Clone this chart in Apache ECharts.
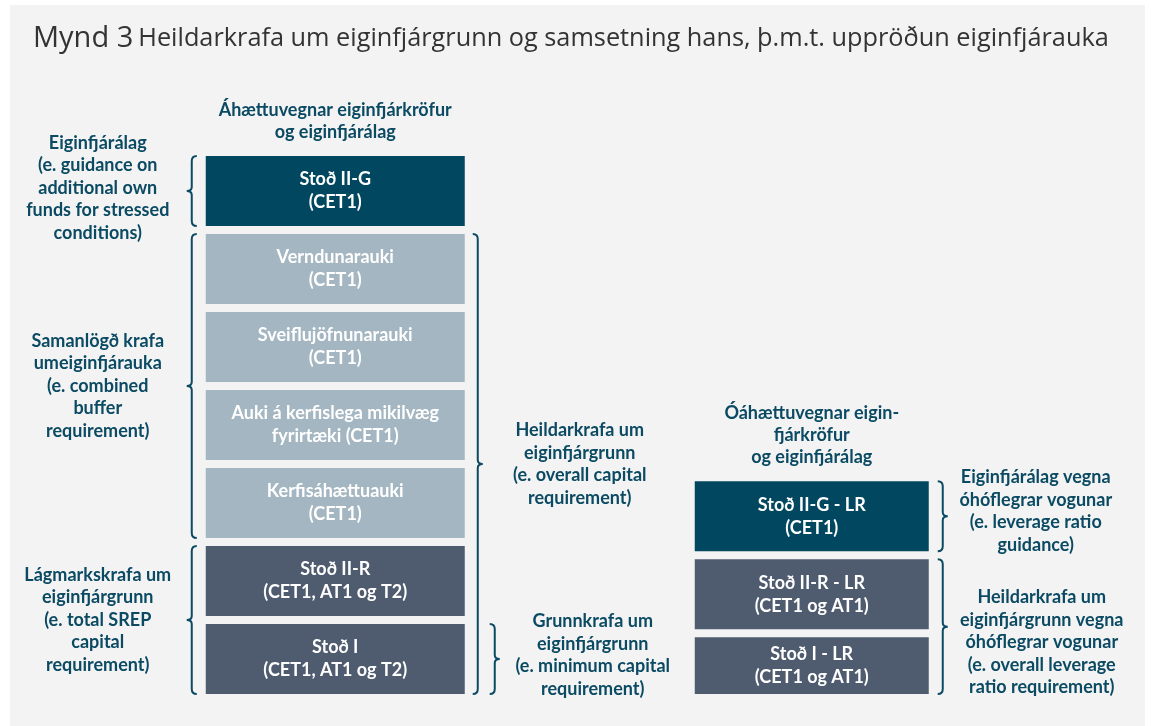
<!DOCTYPE html>
<html lang="is">
<head>
    <meta charset="UTF-8">
    <title>Mynd 3</title>
    <script src="https://cdn.jsdelivr.net/npm/echarts@6/dist/echarts.min.js"></script>
    <style>
        html, body { margin: 0; padding: 0; background: #fff; }
        #main { width: 1151px; height: 726px; }
    </style>
</head>
<body>
<div id="main"></div>
<script type="text/javascript">
    // two stacks: risk-based and non-risk-based (leverage) requirements
    var columns = ['Áhættuvegnar eiginfjárkröfur\nog eiginfjárálag', 'Óáhættuvegnar eigin-\nfjárkröfur\nog eiginfjárálag'];

    // blocks listed bottom to top, heights in block units
    var leftBlocks = ['Stoð I\n(CET1, AT1 og T2)', 'Stoð II-R\n(CET1, AT1 og T2)', 'Kerfisáhættuauki\n(CET1)',
        'Auki á kerfislega mikilvæg\nfyrirtæki (CET1)', 'Sveiflujöfnunarauki\n(CET1)', 'Verndunarauki\n(CET1)', 'Stoð II-G\n(CET1)'];
    var leftHeights = [1, 1, 1, 1, 1, 1, 1];
    var leftTiers = ['pillar', 'pillar', 'buffer', 'buffer', 'buffer', 'buffer', 'guidance'];

    var rightBlocks = ['Stoð I - LR\n(CET1 og AT1)', 'Stoð II-R - LR\n(CET1 og AT1)', 'Stoð II-G - LR\n(CET1)'];
    var rightHeights = [0.83, 1, 1];
    var rightTiers = ['pillar', 'pillar', 'guidance'];

    // braces: column, side, first and last block index, label
    var braceCols = [0, 0, 0, 0, 0, 1, 1];
    var braceSides = ['left', 'left', 'left', 'right', 'right', 'right', 'right'];
    var braceFrom = [0, 2, 6, 0, 0, 0, 2];
    var braceTo = [1, 5, 6, 5, 0, 1, 2];
    var braceLabels = [
        'Lágmarkskrafa um\neiginfjárgrunn\n(e. total SREP\ncapital\nrequirement)',
        'Samanlögð krafa\numeiginfjárauka\n(e. combined\nbuffer\nrequirement)',
        'Eiginfjárálag\n(e. guidance on\nadditional own\nfunds for stressed\nconditions)',
        'Heildarkrafa um\neiginfjárgrunn\n(e. overall capital\nrequirement)',
        'Grunnkrafa um\neiginfjárgrunn\n(e. minimum capital\nrequirement)',
        'Heildarkrafa um\neiginfjárgrunn vegna\nóhóflegrar vogunar\n(e. overall leverage\nratio requirement)',
        'Eiginfjárálag vegna\nóhóflegrar vogunar\n(e. leverage ratio\nguidance)'
    ];

    // styling
    var tierColors = {guidance: '#00475f', buffer: '#a4b6c1', pillar: '#4f5b6e'};
    var colWidths = [259, 234];
    var gap = 8;
    var ink = '#0b4a63';
    var labelFont = 'bold 18px Lato, "Open Sans", sans-serif';
    // brace distance from the stack edge, label centre distance, label vertical nudge
    var braceDx = [14, 14, 14, 13, 30, 14, 14];
    var labelDx = [108, 108, 108, 115, 128, 113, 107];
    var labelDy = [0, 0, -3, 0, -4, 16, -5];

    function stackItems(col, names, heights, tiers) {
        var items = [];
        var start = 0;
        for (var i = 0; i < names.length; i++) {
            items.push([col, start, start + heights[i], names[i], tiers[i]]);
            start += heights[i];
        }
        return items;
    }

    var blockData = stackItems(0, leftBlocks, leftHeights, leftTiers)
        .concat(stackItems(1, rightBlocks, rightHeights, rightTiers));

    function stackStart(col, idx) {
        var h = col === 0 ? leftHeights : rightHeights;
        var s = 0;
        for (var i = 0; i < idx; i++) s += h[i];
        return s;
    }

    var braceData = [];
    for (var b = 0; b < braceCols.length; b++) {
        braceData.push([braceCols[b], stackStart(braceCols[b], braceFrom[b]),
            stackStart(braceCols[b], braceTo[b] + 1), b]);
    }

    var headerData = [
        [0, stackStart(0, leftHeights.length), columns[0]],
        [1, stackStart(1, rightHeights.length), columns[1]]
    ];

    var myChart = echarts.init(document.getElementById('main'));

    var option = {
        backgroundColor: '#ffffff',
        animation: false,
        graphic: [{
            type: 'rect',
            z: -10,
            silent: true,
            shape: {x: 10, y: 5, width: 1135, height: 721},
            style: {fill: '#f3f3f3'}
        }],
        title: {
            left: 28,
            top: 19,
            text: '{a|Mynd 3} {b|Heildarkrafa um eiginfjárgrunn og samsetning hans, þ.m.t. uppröðun eiginfjárauka}',
            textStyle: {
                rich: {
                    a: {fontSize: 29, fontFamily: '"Open Sans", sans-serif', fontWeight: 400, color: '#333333'},
                    b: {fontSize: 25.3, fontFamily: '"Open Sans", sans-serif', fontWeight: 400, color: '#333333'}
                }
            }
        },
        grid: {left: 97, right: 101, top: 31, bottom: 32},
        xAxis: {
            type: 'category',
            data: columns,
            show: false
        },
        yAxis: {
            type: 'value',
            min: 0,
            max: 8.5,
            show: false
        },
        series: [
            {
                name: 'blocks',
                type: 'custom',
                data: blockData,
                encode: {x: 0, y: [1, 2]},
                renderItem: function (params, api) {
                    var col = api.value(0);
                    var cx = api.coord([col, 0])[0];
                    var w = colWidths[col];
                    var yb = api.coord([col, api.value(1)])[1];
                    var yt = api.coord([col, api.value(2)])[1] + gap;
                    var item = blockData[params.dataIndex];
                    return {
                        type: 'rect',
                        shape: {x: cx - w / 2, y: yt, width: w, height: yb - yt},
                        style: {fill: tierColors[item[4]]},
                        textContent: {
                            style: {
                                text: item[3],
                                fill: '#ffffff',
                                font: labelFont,
                                lineHeight: 23,
                                align: 'center',
                                verticalAlign: 'middle'
                            }
                        },
                        textConfig: {position: 'inside'}
                    };
                }
            },
            {
                name: 'braces',
                type: 'custom',
                data: braceData,
                encode: {x: 0, y: [1, 2]},
                renderItem: function (params, api) {
                    var col = api.value(0);
                    var k = api.value(3);
                    var cx = api.coord([col, 0])[0];
                    var w = colWidths[col];
                    var yb = api.coord([col, api.value(1)])[1];
                    var yt = api.coord([col, api.value(2)])[1] + gap;
                    var ym = (yb + yt) / 2;
                    var dir = braceSides[k] === 'left' ? -1 : 1;
                    var x0 = braceSides[k] === 'left' ? cx - w / 2 - braceDx[k] : cx + w / 2 + braceDx[k];
                    var c = 5;
                    var d = -dir * c; // curls point back toward the stack
                    var path = 'M' + (x0 + d) + ' ' + yt +
                        ' Q' + x0 + ' ' + yt + ' ' + x0 + ' ' + (yt + c) +
                        ' L' + x0 + ' ' + (ym - 4) +
                        ' Q' + x0 + ' ' + ym + ' ' + (x0 + dir * 5) + ' ' + ym +
                        ' Q' + x0 + ' ' + ym + ' ' + x0 + ' ' + (ym + 4) +
                        ' L' + x0 + ' ' + (yb - c) +
                        ' Q' + x0 + ' ' + yb + ' ' + (x0 + d) + ' ' + yb;
                    var lx = braceSides[k] === 'left' ? cx - w / 2 - labelDx[k] : cx + w / 2 + labelDx[k];
                    return {
                        type: 'group',
                        children: [
                            {
                                type: 'path',
                                shape: {pathData: path},
                                style: {stroke: ink, lineWidth: 2, fill: 'none'}
                            },
                            {
                                type: 'text',
                                x: lx,
                                y: ym + labelDy[k],
                                style: {
                                    text: braceLabels[k],
                                    fill: ink,
                                    font: labelFont,
                                    lineHeight: 22.5,
                                    align: 'center',
                                    verticalAlign: 'middle'
                                }
                            }
                        ]
                    };
                }
            },
            {
                name: 'headers',
                type: 'custom',
                data: headerData,
                encode: {x: 0, y: 1},
                renderItem: function (params, api) {
                    var col = api.value(0);
                    var p = api.coord([col, api.value(1)]);
                    return {
                        type: 'text',
                        x: p[0],
                        y: p[1] - 5,
                        style: {
                            text: headerData[params.dataIndex][2],
                            fill: ink,
                            font: labelFont,
                            lineHeight: 22,
                            align: 'center',
                            verticalAlign: 'bottom'
                        }
                    };
                }
            }
        ]
    };

    myChart.setOption(option);
</script>
</body>
</html>
